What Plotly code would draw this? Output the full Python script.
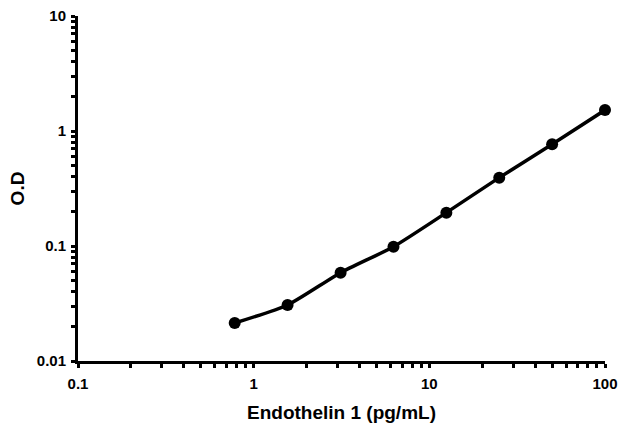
import plotly.graph_objects as go

concentration = [0.78, 1.56, 3.125, 6.25, 12.5, 25, 50, 100]
od = [0.0214, 0.0307, 0.0586, 0.0986, 0.195, 0.393, 0.766, 1.52]

x_major = [0.1, 1, 10, 100]
x_major_labels = ["0.1", "1", "10", "100"]
y_major = [0.01, 0.1, 1, 10]
y_major_labels = ["0.01", "0.1", "1", "10"]


def log_ticks(majors, labels):
    vals, texts = [], []
    for i, m in enumerate(majors):
        vals.append(m)
        texts.append(labels[i])
        if i < len(majors) - 1:
            for k in range(2, 10):
                vals.append(m * k)
                texts.append("")
    return vals, texts


xv, xt = log_ticks(x_major, x_major_labels)
yv, yt = log_ticks(y_major, y_major_labels)

fig = go.Figure()
fig.add_trace(go.Scatter(
    x=concentration, y=od, mode="lines+markers",
    line=dict(color="black", width=3.5, shape="spline", smoothing=0.6),
    marker=dict(color="black", size=12),
    showlegend=False, cliponaxis=False,
))

fam = "Liberation Sans, Arial, sans-serif"
fig.update_layout(
    width=621, height=424,
    margin=dict(l=78, r=16, t=16, b=63),
    paper_bgcolor="white", plot_bgcolor="white",
    font=dict(family=fam, color="black"),
)
common = dict(
    type="log",
    showline=True, linecolor="black", linewidth=3,
    ticks="outside", ticklen=4, tickwidth=3, tickcolor="black",
    showgrid=False, zeroline=False, automargin=False,
    ticklabeloverflow="allow",
    tickfont=dict(size=15, family=fam, weight="bold"),
)
fig.update_xaxes(
    range=[-1, 2], tickvals=xv, ticktext=xt, ticklabelstandoff=3, **common,
    title=dict(text="<b>Endothelin 1 (pg/mL)</b>", font=dict(size=19, family=fam), standoff=15),
)
fig.update_yaxes(
    range=[-2, 1], tickvals=yv, ticktext=yt, ticklabelstandoff=2, **common,
    title=dict(text="<b>O.D</b>", font=dict(size=19, family=fam), standoff=8),
)

fig.write_html(
    "out.html",
    config={"displayModeBar": False},
    post_script="document.body.style.margin='0';document.body.style.overflow='hidden';",
)
